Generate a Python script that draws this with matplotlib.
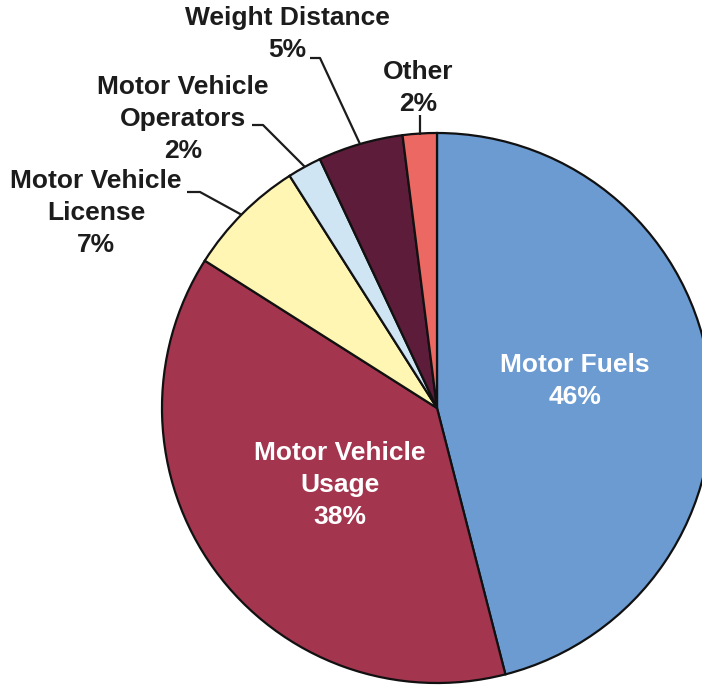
"""Pie chart of highway revenue sources (motor fuels, vehicle usage, etc.)."""

import matplotlib
import matplotlib.pyplot as plt

matplotlib.use('Agg')

W, H = 702, 689

categories = ['Motor Fuels', 'Motor Vehicle Usage', 'Motor Vehicle License',
              'Motor Vehicle Operators', 'Weight Distance', 'Other']
shares = [46, 38, 7, 2, 5, 2]
colors = ['#6C9BD2', '#A3354F', '#FFF6B4', '#CFE5F3', '#5C1C3A', '#EC6862']

# label text for each slice, and where it sits (pixel coords, y down)
label_text = ['Motor Fuels\n46%', 'Motor Vehicle\nUsage\n38%', 'Motor Vehicle\nLicense\n7%',
              'Motor Vehicle\nOperators\n2%', 'Weight Distance\n5%', 'Other\n2%']
label_pos = [(575, 381), (340, 485), (96, 213), (183, 119), (287, 34), (418, 88)]
label_color = ['white', 'white', '#1c1c1c', '#1c1c1c', '#1c1c1c', '#1c1c1c']

# leader lines (pixel coords) for the outside labels
leaders = {
    'Motor Vehicle License': [(187, 192), (200, 192), (242, 215)],
    'Motor Vehicle Operators': [(252, 125), (263, 125), (305, 167)],
    'Weight Distance': [(310, 58), (320, 58), (360, 144)],
    'Other': [(420, 115), (420, 135)],
}


def main() -> None:
    plt.rcParams['font.family'] = ['Liberation Sans', 'DejaVu Sans']
    fig = plt.figure(figsize=(W / 100, H / 100), dpi=100)
    fig.patch.set_facecolor('white')
    ax = fig.add_axes([0, 0, 1, 1])

    ax.pie(shares, colors=colors, startangle=90, counterclock=False,
           center=(437, H - 408), radius=275,
           wedgeprops={'edgecolor': '#111111', 'linewidth': 1.6})

    for text, (x, y), c in zip(label_text, label_pos, label_color):
        ax.text(x, H - y, text, ha='center', va='center', color=c,
                fontsize=19, fontweight='bold', linespacing=1.42)

    for pts in leaders.values():
        xs = [p[0] for p in pts]
        ys = [H - p[1] for p in pts]
        ax.plot(xs, ys, color='#1c1c1c', lw=1.6, solid_capstyle='butt')

    ax.set_xlim(0, W)
    ax.set_ylim(0, H)
    ax.set_aspect('equal')
    ax.axis('off')

    fig.savefig('out.png', dpi=100)
    plt.close(fig)


if __name__ == '__main__':
    main()
